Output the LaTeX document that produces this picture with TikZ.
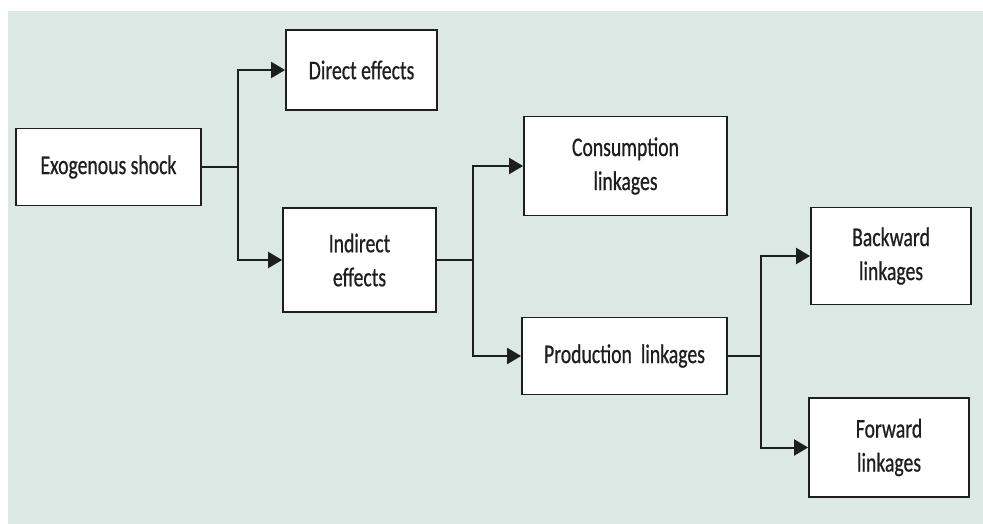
\documentclass[tikz,border=0pt]{standalone}
\usepackage{fontspec}
\setmainfont{Carlito}[FakeStretch=0.73,FakeBold=0.6]
\usetikzlibrary{arrows.meta}
\definecolor{panel}{HTML}{DBE8E3}
\definecolor{ink}{HTML}{1E1E1E}
\begin{document}
\begin{tikzpicture}[x=1pt,y=-1pt,
  box/.style={draw=ink, line width=1.8pt, fill=white, inner sep=0pt, align=center,
    text=ink, font=\fontsize{27}{34}\selectfont},
  conn/.style={draw=ink, line width=2pt},
  arr/.style={conn, -{Triangle[length=14pt,width=16pt]}}]
\useasboundingbox (0,0) rectangle (983,524);
\fill[panel] (8,11) rectangle (983,524);
\node[box, minimum width=185pt, minimum height=77pt] (exo) at (108.5,167) {Exogenous shock};
\node[box, minimum width=151pt, minimum height=80pt] (direct) at (361.5,70) {Direct effects};
\node[box, minimum width=153pt, minimum height=104pt] (indirect) at (359.5,260) {Indirect\\effects};
\node[box, minimum width=203pt, minimum height=99pt] (cons) at (625.5,166) {Consumption\\linkages};
\node[box, minimum width=205pt, minimum height=77pt] (prod) at (624.5,356) {Production\ \ linkages};
\node[box, minimum width=160pt, minimum height=97pt] (back) at (891,256) {Backward\\linkages};
\node[box, minimum width=160pt, minimum height=99pt] (fwd) at (889,447.5) {Forward\\linkages};
\draw[conn] (exo.east) -- ++(36,0) coordinate (j1);
\draw[arr] (j1) |- (direct.west);
\draw[arr] (j1) |- (indirect.west);
\draw[conn] (indirect.east) -- ++(36,0) coordinate (j2);
\draw[arr] (j2) |- (cons.west);
\draw[arr] (j2) |- (prod.west);
\draw[conn] (prod.east) -- ++(33,0) coordinate (j3);
\draw[arr] (j3) |- (back.west);
\draw[arr] (j3) |- (fwd.west);
\end{tikzpicture}
\end{document}
